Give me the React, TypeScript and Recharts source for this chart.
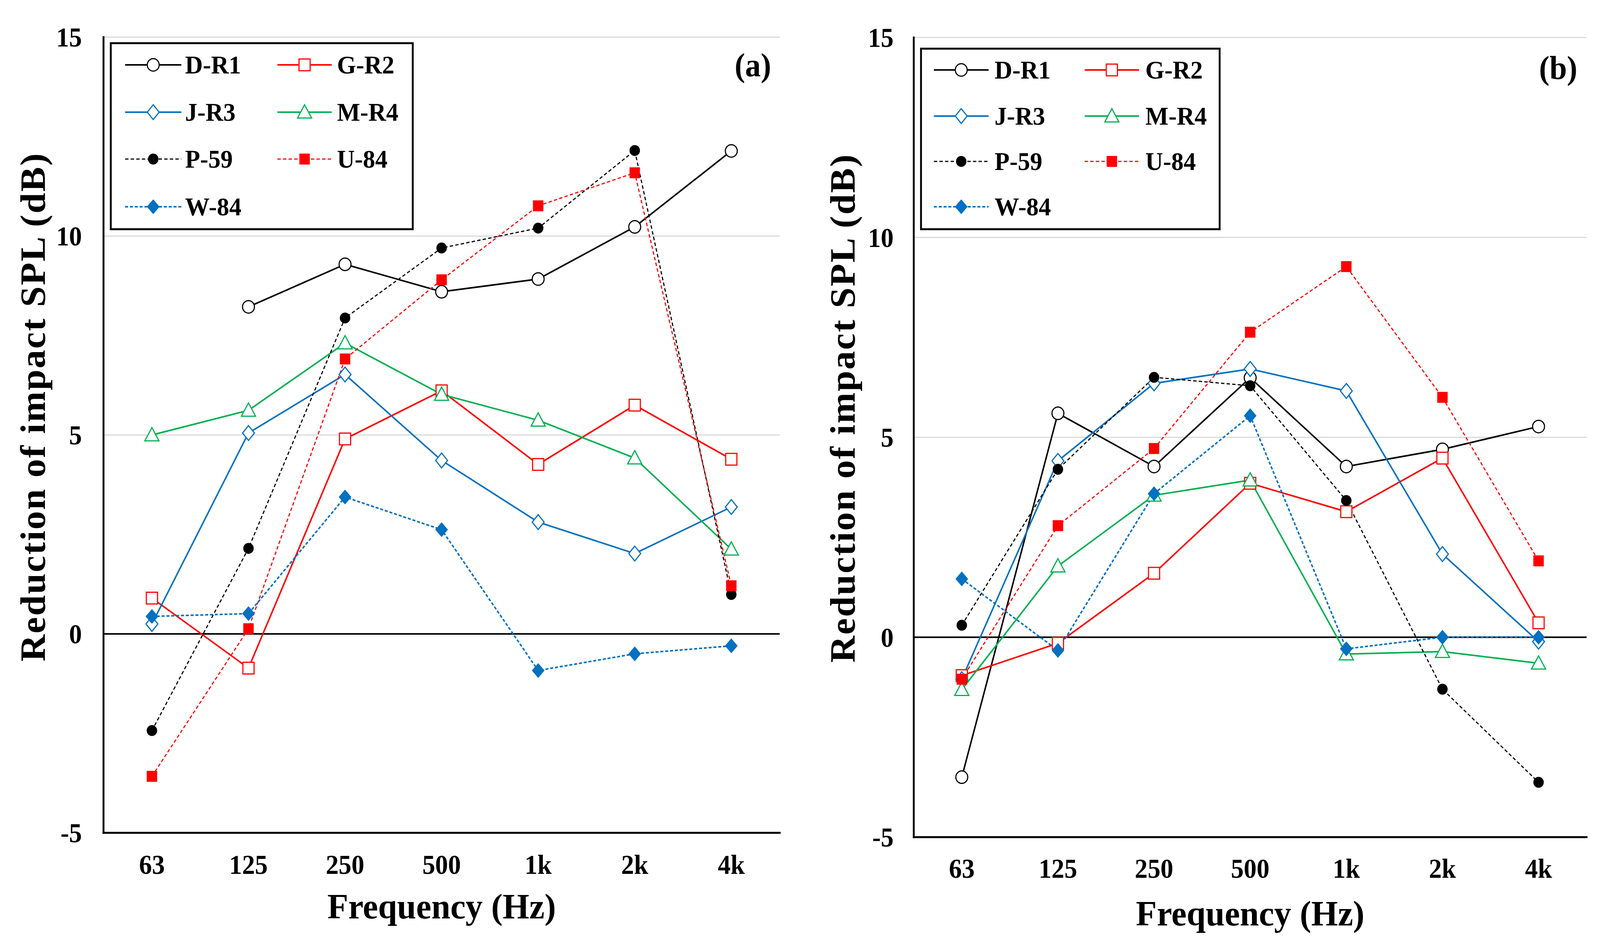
import React from 'react';
import { LineChart, Line, XAxis, YAxis, CartesianGrid, ReferenceLine, Legend, Label } from 'recharts';

const FREQS = ['63', '125', '250', '500', '1k', '2k', '4k'];
const Y_TICKS = [-5, 0, 5, 10, 15];

// Panel (a)
const A_DR1 = [null, 8.22, 9.29, 8.6, 8.92, 10.23, 12.14];
const A_GR2 = [0.9, -0.86, 4.9, 6.11, 4.26, 5.75, 4.39];
const A_JR3 = [0.25, 5.05, 6.52, 4.36, 2.81, 2.02, 3.19];
const A_MR4 = [5.0, 5.62, 7.31, 6.02, 5.37, 4.42, 2.13];
const A_P59 = [-2.43, 2.15, 7.94, 9.7, 10.2, 12.15, 0.99];
const A_U84 = [-3.58, 0.13, 6.91, 8.9, 10.76, 11.59, 1.21];
const A_W84 = [0.44, 0.51, 3.44, 2.62, -0.92, -0.5, -0.3];

// Panel (b)
const B_DR1 = [-3.5, 5.6, 4.27, 6.49, 4.27, 4.7, 5.27];
const B_GR2 = [-0.96, -0.15, 1.6, 3.85, 3.14, 4.48, 0.36];
const B_JR3 = [-1.05, 4.41, 6.35, 6.71, 6.16, 2.08, -0.11];
const B_MR4 = [-1.31, 1.78, 3.55, 3.93, -0.42, -0.36, -0.65];
const B_P59 = [0.3, 4.2, 6.5, 6.29, 3.42, -1.3, -3.63];
const B_U84 = [-1.05, 2.79, 4.72, 7.63, 9.27, 6.0, 1.91];
const B_W84 = [1.46, -0.33, 3.59, 5.54, -0.29, 0.0, 0.0];

const SERIES_NAMES = ['D-R1', 'G-R2', 'J-R3', 'M-R4', 'P-59', 'U-84', 'W-84'];

const STYLES: Record<string, { color: string; dash?: string; width: number; marker: string }> = {
  'D-R1': { color: '#000000', width: 4, marker: 'circleOpen' },
  'G-R2': { color: '#ff0000', width: 4, marker: 'squareOpen' },
  'J-R3': { color: '#0070c0', width: 4, marker: 'diamondOpen' },
  'M-R4': { color: '#00b050', width: 4, marker: 'triangleOpen' },
  'P-59': { color: '#000000', width: 3, dash: '9 6', marker: 'circleFilled' },
  'U-84': { color: '#ff0000', width: 3, dash: '9 6', marker: 'squareFilled' },
  'W-84': { color: '#0070c0', width: 4, dash: '8 5', marker: 'diamondFilled' },
};

function buildData(series: (number | null)[][]) {
  return FREQS.map((f, i) => {
    const row: Record<string, any> = { f };
    SERIES_NAMES.forEach((n, k) => {
      row[n] = series[k][i];
    });
    return row;
  });
}

const DATA_A = buildData([A_DR1, A_GR2, A_JR3, A_MR4, A_P59, A_U84, A_W84]);
const DATA_B = buildData([B_DR1, B_GR2, B_JR3, B_MR4, B_P59, B_U84, B_W84]);

const FONT = '"Liberation Serif", "Times New Roman", serif';

function Marker({ type, cx, cy, color }: { type: string; cx: number; cy: number; color: string }) {
  switch (type) {
    case 'circleOpen':
      return <circle cx={cx} cy={cy} r={16} fill="#fff" stroke={color} strokeWidth={3} />;
    case 'circleFilled':
      return <circle cx={cx} cy={cy} r={14} fill={color} />;
    case 'squareOpen':
      return <rect x={cx - 15} y={cy - 15} width={30} height={30} fill="#fff" stroke={color} strokeWidth={3} />;
    case 'squareFilled':
      return <rect x={cx - 14} y={cy - 14} width={28} height={28} fill={color} />;
    case 'diamondOpen':
      return (
        <polygon
          points={`${cx},${cy - 19} ${cx + 16},${cy} ${cx},${cy + 19} ${cx - 16},${cy}`}
          fill="#fff"
          stroke={color}
          strokeWidth={3}
        />
      );
    case 'diamondFilled':
      return <polygon points={`${cx},${cy - 19} ${cx + 17},${cy} ${cx},${cy + 19} ${cx - 17},${cy}`} fill={color} />;
    case 'triangleOpen':
      return (
        <polygon
          points={`${cx},${cy - 19} ${cx + 19},${cy + 15} ${cx - 19},${cy + 15}`}
          fill="#fff"
          stroke={color}
          strokeWidth={3}
        />
      );
    default:
      return null;
  }
}

type LegendLayout = {
  left: number;
  top: number;
  w: number;
  h: number;
  rows: number[];
  col1: [number, number, number];
  col2: [number, number, number];
};

function LegendBox({ layout }: { layout: LegendLayout }) {
  return (
    <div
      style={{
        position: 'relative',
        width: layout.w,
        height: layout.h,
        boxSizing: 'border-box',
        border: '5px solid #000',
        background: '#fff',
      }}
    >
      {SERIES_NAMES.map((name, i) => {
        const s = STYLES[name];
        const col = i % 2 === 0 ? layout.col1 : layout.col2;
        const rowY = layout.rows[Math.floor(i / 2)];
        const len = col[1] - col[0];
        return (
          <React.Fragment key={name}>
            <svg
              width={len}
              height={44}
              style={{ position: 'absolute', left: col[0], top: rowY - 22, overflow: 'visible' }}
            >
              <line x1={0} x2={len} y1={22} y2={22} stroke={s.color} strokeWidth={s.width} strokeDasharray={s.dash} />
              <Marker type={s.marker} cx={len / 2} cy={22} color={s.color} />
            </svg>
            <div
              style={{
                position: 'absolute',
                left: col[2],
                top: rowY,
                transform: 'translateY(-50%)',
                fontFamily: FONT,
                fontWeight: 700,
                fontSize: 66,
                lineHeight: 1,
                color: '#000',
                whiteSpace: 'nowrap',
              }}
            >
              {name}
            </div>
          </React.Fragment>
        );
      })}
    </div>
  );
}

type PanelCfg = {
  data: any[];
  width: number;
  margin: { top: number; right: number; left: number; bottom: number };
  yAxisWidth: number;
  xAxisHeight: number;
  xPad: number;
  xTickMargin: number;
  yTickMargin: number;
  xTitleDy: number;
  yTitleX: number;
  yTitleDy: number;
  tag: string;
  tagRight: number;
  tagTop: number;
  legend: LegendLayout;
};

const frameLine = { stroke: '#000', strokeWidth: 5, strokeLinecap: 'square' as const };

function Panel({ cfg }: { cfg: PanelCfg }) {
  const tickStyle = { fontSize: 69, fontFamily: FONT, fontWeight: 700, fill: '#000' };
  return (
    <div style={{ position: 'relative', width: cfg.width, height: 2418 }}>
      <LineChart width={cfg.width} height={2418} data={cfg.data} margin={cfg.margin}>
        <CartesianGrid vertical={false} stroke="#d9d9d9" strokeWidth={3} />
        <XAxis
          dataKey="f"
          interval={0}
          padding={{ left: cfg.xPad, right: cfg.xPad }}
          height={cfg.xAxisHeight}
          tickLine={false}
          tickSize={0}
          tickMargin={cfg.xTickMargin}
          tick={tickStyle}
          axisLine={frameLine}
        >
          <Label
            content={(props: any) => {
              const vb = props.viewBox;
              return (
                <text
                  x={vb.x + vb.width / 2}
                  y={vb.y + cfg.xTitleDy}
                  textAnchor="middle"
                  fontFamily={FONT}
                  fontWeight={700}
                  fontSize={92}
                  fill="#000"
                >
                  Frequency (Hz)
                </text>
              );
            }}
          />
        </XAxis>
        <XAxis
          xAxisId="top"
          dataKey="f"
          orientation="top"
          height={0}
          tick={false}
          tickLine={false}
          axisLine={frameLine}
        />
        <YAxis
          domain={[-5, 15]}
          ticks={Y_TICKS}
          type="number"
          allowDataOverflow
          width={cfg.yAxisWidth}
          tickLine={false}
          tickSize={0}
          tickMargin={cfg.yTickMargin}
          tick={tickStyle}
          axisLine={frameLine}
        >
          <Label
            content={(props: any) => {
              const vb = props.viewBox;
              const x = cfg.yTitleX;
              const y = vb.y + vb.height / 2 + cfg.yTitleDy;
              return (
                <text
                  x={x}
                  y={y}
                  transform={`rotate(-90, ${x}, ${y})`}
                  textAnchor="middle"
                  dominantBaseline="central"
                  fontFamily={FONT}
                  fontWeight={700}
                  fontSize={95}
                  letterSpacing={3}
                  fill="#000"
                >
                  Reduction of impact SPL (dB)
                </text>
              );
            }}
          />
        </YAxis>
        <YAxis yAxisId="right" orientation="right" width={0} tick={false} tickLine={false} axisLine={frameLine} />
        <ReferenceLine y={0} stroke="#000" strokeWidth={4} />
        {SERIES_NAMES.map((name) => {
          const s = STYLES[name];
          return (
            <Line
              key={name}
              dataKey={name}
              type="linear"
              stroke={s.color}
              strokeWidth={s.width}
              strokeDasharray={s.dash}
              isAnimationActive={false}
              connectNulls={false}
              activeDot={false}
              dot={(p: any) => {
                const v = p.payload ? p.payload[name] : p.value;
                if (p.cx == null || p.cy == null || v == null) return <g key={`${name}-${p.index}`} />;
                return (
                  <g key={`${name}-${p.index}`}>
                    <Marker type={s.marker} cx={p.cx} cy={p.cy} color={s.color} />
                  </g>
                );
              }}
            />
          );
        })}
        <Legend
          layout="horizontal"
          verticalAlign="middle"
          align="center"
          wrapperStyle={{ left: cfg.legend.left, top: cfg.legend.top, width: cfg.legend.w, height: cfg.legend.h }}
          content={() => <LegendBox layout={cfg.legend} />}
        />
      </LineChart>
      <div
        style={{
          position: 'absolute',
          left: cfg.tagRight - 300,
          top: cfg.tagTop,
          width: 300,
          textAlign: 'right',
          fontFamily: FONT,
          fontWeight: 700,
          fontSize: 84,
          lineHeight: 1,
          color: '#000',
        }}
      >
        {cfg.tag}
      </div>
    </div>
  );
}

const CFG_A: PanelCfg = {
  data: DATA_A,
  width: 2150,
  margin: { top: 95, right: 56, left: 0, bottom: 0 },
  yAxisWidth: 278,
  xAxisHeight: 287,
  xPad: 130,
  xTickMargin: 56,
  yTickMargin: 58,
  xTitleDy: 219,
  yTitleX: 88,
  yTitleDy: -72,
  tag: '(a)',
  tagRight: 2071,
  tagTop: 125,
  legend: {
    left: 295,
    top: 108,
    w: 816,
    h: 481,
    rows: [53, 174, 294, 416],
    col1: [36, 187, 197],
    col2: [445, 591, 605],
  },
};

const CFG_B: PanelCfg = {
  data: DATA_B,
  width: 2147,
  margin: { top: 96, right: 36, left: 0, bottom: 0 },
  yAxisWidth: 304,
  xAxisHeight: 276,
  xPad: 129,
  xTickMargin: 55,
  yTickMargin: 54,
  xTitleDy: 226,
  yTitleX: 113,
  yTitleDy: -75,
  tag: '(b)',
  tagRight: 4236 - 2150,
  tagTop: 132,
  legend: {
    left: 321,
    top: 122,
    w: 807,
    h: 467,
    rows: [52, 170, 286, 402],
    col1: [32, 179, 195],
    col2: [437, 583, 600],
  },
};

// The browser viewport is narrower than the figure; the figure is designed at
// 4297 px wide and compressed horizontally to fit the visible area.
const DESIGN_W = 4297;
const DESIGN_H = 2418;

export default function App() {
  const [vw, setVw] = React.useState(typeof window !== 'undefined' ? window.innerWidth : DESIGN_W);
  React.useEffect(() => {
    setVw(window.innerWidth);
  }, []);
  const sx = Math.min(1, vw / DESIGN_W);
  return (
    <div
      style={{
        position: 'absolute',
        left: 0,
        top: 0,
        width: Math.round(DESIGN_W * sx),
        height: DESIGN_H,
        overflow: 'hidden',
        background: '#fff',
      }}
    >
      <div
        style={{
          position: 'absolute',
          left: 0,
          top: 0,
          width: DESIGN_W,
          height: DESIGN_H,
          transform: `scaleX(${sx})`,
          transformOrigin: '0 0',
        }}
      >
        <div style={{ position: 'absolute', left: 0, top: 0 }}>
          <Panel cfg={CFG_A} />
        </div>
        <div style={{ position: 'absolute', left: 2150, top: 0 }}>
          <Panel cfg={CFG_B} />
        </div>
      </div>
    </div>
  );
}
